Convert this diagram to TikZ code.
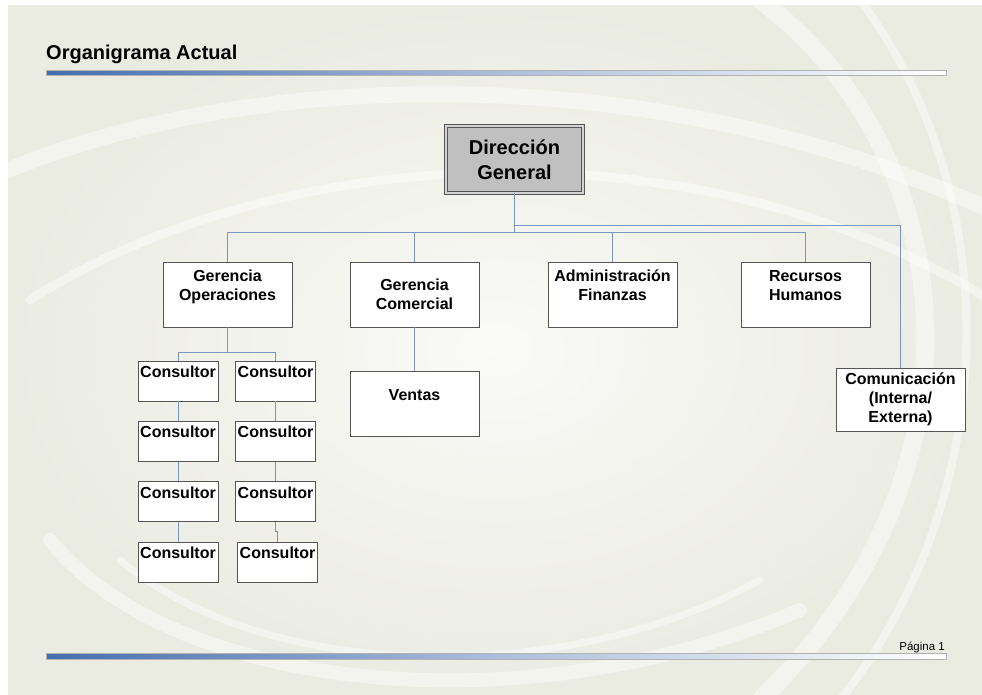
\documentclass[tikz,border=0pt]{standalone}
\usepackage{fontspec}
\setmainfont{Liberation Sans}
\usetikzlibrary{positioning, calc}

\definecolor{pagebg}{RGB}{234,235,225}
\definecolor{barblue}{RGB}{70,110,175}
\definecolor{linkblue}{RGB}{120,150,192}
\definecolor{boxline}{RGB}{85,85,85}
\definecolor{topgray}{RGB}{192,192,192}

\begin{document}
\begin{tikzpicture}[
  x=1pt, y=-1pt,
  unit/.style={draw=boxline, line width=0.9pt, fill=white, align=center, inner sep=0pt,
    minimum width=129pt, minimum height=65pt, font=\fontsize{16}{19}\selectfont\bfseries},
  head/.style={draw=boxline, line width=0.9pt, double=topgray!70!white, double distance=1.4pt,
    fill=topgray, align=center, inner sep=0pt, minimum width=137pt, minimum height=67pt,
    font=\fontsize{20}{25}\selectfont\bfseries},
  cbox/.style={unit, minimum width=80pt, minimum height=40pt},
  link/.style={draw=linkblue, line width=0.9pt},
  swoosh/.style={draw=white, opacity=0.45, line cap=round},
]
\useasboundingbox (0,0) rectangle (982,694);

% --- page background with pale swirls
\fill[white] (0,0) rectangle (982,694);
\fill[pagebg] (8,5) rectangle (982,694);
\shade[inner color=white!75!pagebg, outer color=pagebg] (8,5) rectangle (982,694);
\begin{scope}
  \clip (8,5) rectangle (982,694);
  \draw[swoosh, line width=16pt] (8,170) .. controls (250,70) and (650,55) .. (990,210);
  \draw[swoosh, line width=9pt] (30,300) .. controls (280,140) and (700,120) .. (990,300);
  \draw[swoosh, line width=18pt] (760,0) .. controls (960,150) and (1000,470) .. (760,700);
  \draw[swoosh, line width=8pt] (860,0) .. controls (1010,200) and (1000,500) .. (840,700);
  \draw[swoosh, line width=14pt] (50,540) .. controls (170,690) and (520,730) .. (800,610);
  \draw[swoosh, line width=7pt] (120,560) .. controls (260,680) and (560,690) .. (760,580);
\end{scope}

% --- title and page bars
\node[font=\fontsize{20}{24}\selectfont\bfseries, anchor=base west, inner sep=0pt] (title) at (46,59) {Organigrama Actual};
\shade[left color=barblue, right color=white, middle color=barblue!45!white] (46,70) rectangle (946,75);
\draw[gray!60, line width=0.5pt] (46,70) rectangle (946,75);
\shade[left color=barblue, right color=white, middle color=barblue!45!white] (46,653) rectangle (946,659);
\draw[gray!60, line width=0.5pt] (46,653) rectangle (946,659);
\node[font=\fontsize{11.5}{13}\selectfont, anchor=base east, inner sep=0pt] (page) at (945,650) {Página 1};

% --- boxes
\node[head] (dg) at (514.5,159.5) {Dirección\\General};
\node[unit] (go) at (227.5,294.5) {Gerencia\\Operaciones\\\mbox{}};
\node[unit] (gc) at (414.5,294.5) {Gerencia\\Comercial};
\node[unit] (af) at (612.5,294.5) {Administración\\Finanzas\\\mbox{}};
\node[unit] (rh) at (805.5,294.5) {Recursos\\Humanos\\\mbox{}};
\node[unit, below=44pt of gc] (ve) {Ventas\\\mbox{}};
\node[unit, minimum height=63pt] (co) at (900.5,399.5) {Comunicación\\(Interna/\\Externa)};

% --- consultants under operations, two columns
\node[cbox] (c11) at (178,381) {Consultor\\\mbox{}};
\node[cbox] (c21) at (275.5,381) {Consultor\\\mbox{}};
\foreach \p/\r in {1/2,2/3,3/4}
  \node[cbox, below=19.5pt of c1\p] (c1\r) {Consultor\\\mbox{}};
\foreach \p/\r in {1/2,2/3}
  \node[cbox, below=19.5pt of c2\p] (c2\r) {Consultor\\\mbox{}};
\node[cbox, below=19.5pt of c23, xshift=2pt] (c24) {Consultor\\\mbox{}};

% --- connectors
\coordinate (busA) at (514.5,225);
\coordinate (busB) at (514.5,232);
\draw[link] (dg.south) -- (busB);
\draw[link] (busA) -| (co.north);
\draw[link] (go.north) -- (go.north |- busB) -- (rh.north |- busB) -- (rh.north);
\foreach \n in {gc,af}
  \draw[link] (\n.north) -- (\n.north |- busB);
\draw[link] (gc.south) -- (ve.north);

\path (go.south) ++(0,24.5) coordinate (split);
\draw[link] (go.south) -- (split);
\draw[link] (c11.north) |- (split) -| (c21.north);
\foreach \p/\r in {1/2,2/3,3/4}
  \draw[link] (c1\p.south) -- (c1\r.north);
\foreach \p/\r in {1/2,2/3}
  \draw[link] (c2\p.south) -- (c2\r.north);
\draw[link] (c23.south) -- ++(0,9) -| (c24.north);

\end{tikzpicture}
\end{document}
